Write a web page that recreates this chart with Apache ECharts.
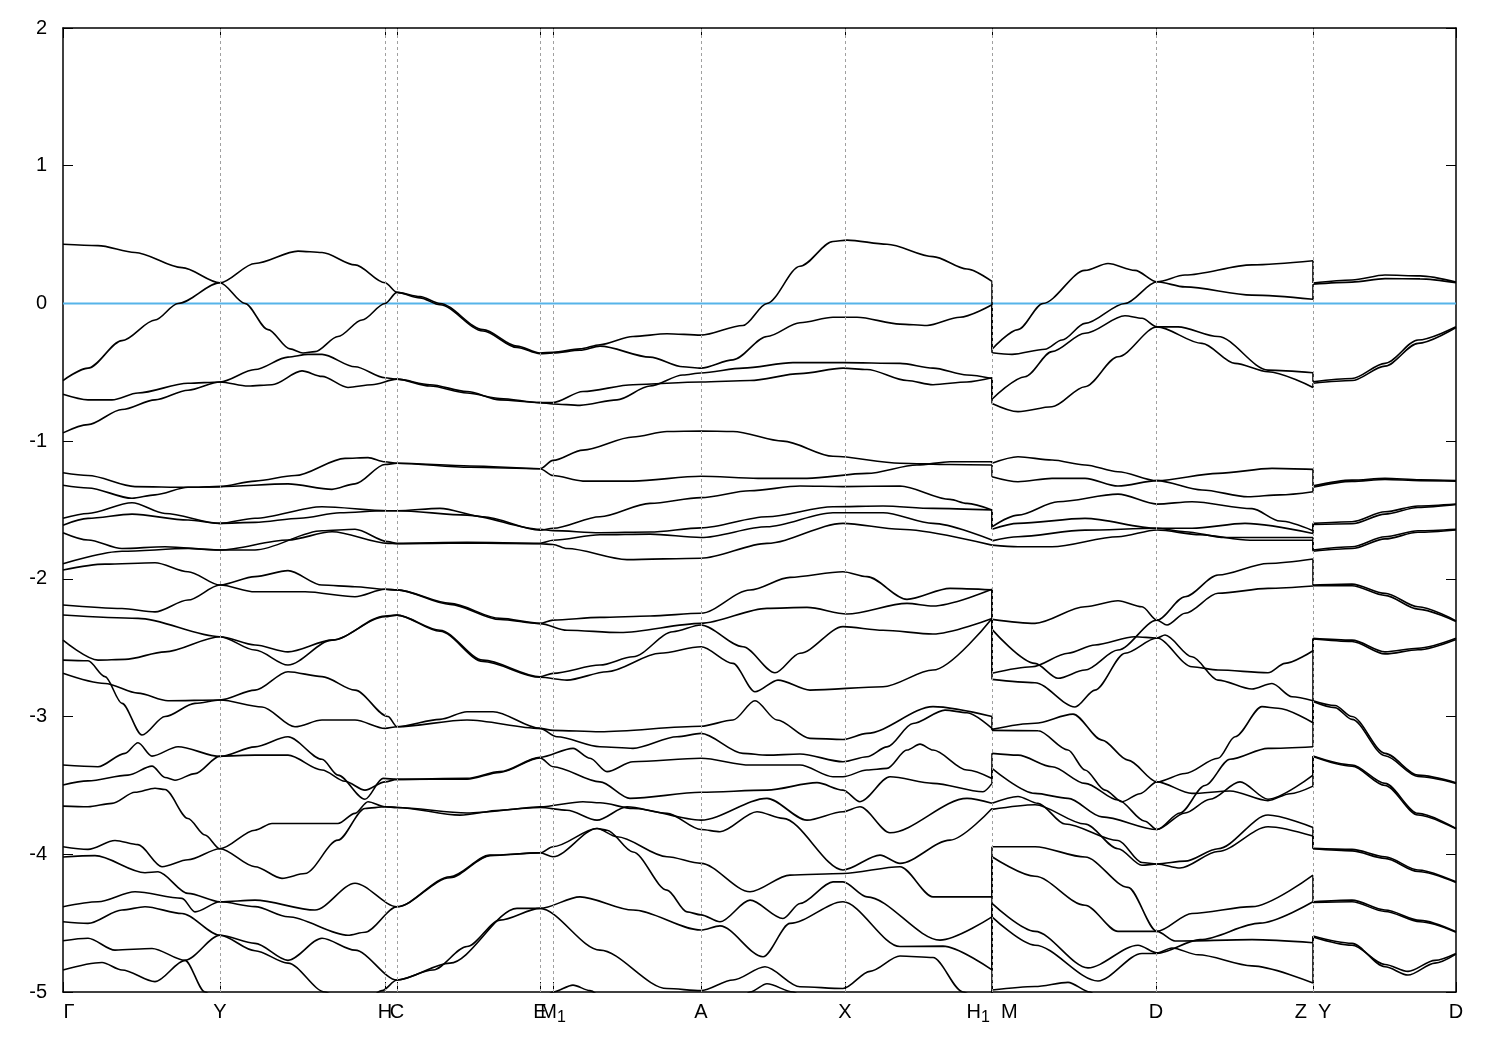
<!DOCTYPE html>
<html><head><meta charset="utf-8">
<script src="https://cdn.jsdelivr.net/npm/echarts@6/dist/echarts.min.js"></script>
<style>html,body{margin:0;padding:0;background:#fff}#c{width:1500px;height:1050px}</style>
</head><body><div id="c"></div>
<script>
// k-path positions of the high-symmetry points (arbitrary distance units)
const kTicks = [63, 220, 385, 397, 540, 553, 701, 845, 992, 1156, 1313, 1456];
const kLabels = ['{g|Γ}', 'Y', 'H', 'C', 'E', '{n|M}{s|1}', 'A', 'X', '{n|H}{s|1}{n|  M}', 'D', 'Z  Y', 'D'];
const fermiLevel = 0;
const energyMin = -5, energyMax = 2, energyStep = 1;

// Bands on Γ–Y–H–C–E–M1–A–X–H1   [k, E(eV)]
const bandsGammaH1 = [
 [[63,0.43],[98,0.42],[135,0.37],[182,0.26],[220,0.15],[245,0],[268,-0.19],[290,-0.33],[303,-0.36],[315,-0.35],[338,-0.24],[362,-0.12],[385,0],[397,0.08],[420,0.05],[440,0],[483,-0.19],[517,-0.31],[540,-0.36],[553,-0.355],[580,-0.33],[600,-0.3],[633,-0.24],[667,-0.22],[701,-0.23],[743,-0.16],[767,0],[800,0.27],[833,0.45],[847,0.46],[887,0.43],[933,0.34],[967,0.25],[992,0.16]],
 [[63,-0.56],[88,-0.47],[122,-0.27],[155,-0.12],[178,0],[220,0.15],[255,0.29],[298,0.38],[322,0.37],[355,0.28],[385,0.15],[397,0.08],[420,0.04],[440,-0.01],[483,-0.2],[517,-0.32],[540,-0.365],[553,-0.36],[580,-0.34],[600,-0.31],[650,-0.39],[683,-0.46],[701,-0.47],[733,-0.41],[767,-0.24],[800,-0.14],[833,-0.1],[857,-0.1],[900,-0.15],[927,-0.16],[960,-0.1],[992,-0.01]],
 [[63,-0.66],[88,-0.7],[112,-0.7],[138,-0.65],[188,-0.58],[220,-0.57],[248,-0.6],[272,-0.59],[302,-0.49],[322,-0.53],[348,-0.61],[372,-0.59],[397,-0.55],[430,-0.6],[467,-0.65],[500,-0.69],[540,-0.72],[553,-0.72],[583,-0.64],[633,-0.59],[701,-0.57],[750,-0.56],[800,-0.51],[843,-0.47],[867,-0.48],[907,-0.56],[933,-0.59],[967,-0.57],[992,-0.54]],
 [[63,-0.94],[88,-0.88],[122,-0.77],[155,-0.7],[188,-0.63],[220,-0.57],[255,-0.48],[288,-0.39],[308,-0.37],[322,-0.37],[355,-0.46],[385,-0.54],[397,-0.55],[430,-0.59],[467,-0.64],[500,-0.7],[540,-0.72],[553,-0.73],[580,-0.74],[617,-0.7],[650,-0.6],[683,-0.52],[701,-0.505],[743,-0.47],[793,-0.43],[843,-0.43],[900,-0.435],[933,-0.47],[967,-0.52],[992,-0.545]],
 [[63,-1.23],[88,-1.25],[135,-1.33],[188,-1.335],[220,-1.33],[255,-1.29],[295,-1.25],[345,-1.125],[368,-1.12],[385,-1.15],[397,-1.16],[470,-1.18],[540,-1.2],[553,-1.14],[583,-1.065],[633,-0.97],[667,-0.93],[701,-0.927],[733,-0.93],[783,-1.0],[833,-1.11],[900,-1.16],[950,-1.17],[992,-1.173]],
 [[63,-1.32],[88,-1.34],[132,-1.415],[155,-1.39],[188,-1.335],[220,-1.33],[288,-1.31],[332,-1.35],[355,-1.31],[385,-1.17],[397,-1.16],[470,-1.19],[540,-1.2],[553,-1.25],[583,-1.29],[633,-1.29],[701,-1.255],[758,-1.27],[807,-1.27],[867,-1.234],[917,-1.173],[950,-1.15],[992,-1.15]],
 [[63,-1.56],[88,-1.525],[132,-1.447],[165,-1.525],[220,-1.597],[255,-1.56],[322,-1.476],[388,-1.505],[397,-1.505],[440,-1.488],[483,-1.549],[540,-1.646],[553,-1.633],[600,-1.549],[650,-1.452],[701,-1.41],[750,-1.36],[800,-1.326],[843,-1.33],[900,-1.326],[950,-1.423],[967,-1.452],[992,-1.5]],
 [[63,-1.61],[88,-1.561],[132,-1.53],[188,-1.573],[220,-1.597],[255,-1.59],[300,-1.56],[340,-1.52],[385,-1.505],[397,-1.505],[467,-1.537],[540,-1.64],[553,-1.65],[600,-1.665],[650,-1.66],[701,-1.63],[767,-1.549],[833,-1.476],[883,-1.471],[933,-1.488],[992,-1.5]],
 [[63,-1.665],[88,-1.718],[122,-1.78],[165,-1.767],[220,-1.79],[255,-1.79],[322,-1.651],[355,-1.64],[388,-1.73],[397,-1.742],[467,-1.735],[540,-1.742],[553,-1.72],[600,-1.68],[650,-1.675],[701,-1.7],[767,-1.622],[833,-1.52],[883,-1.52],[933,-1.597],[992,-1.718]],
 [[63,-1.89],[122,-1.8],[188,-1.78],[220,-1.79],[288,-1.718],[332,-1.658],[388,-1.742],[397,-1.745],[467,-1.74],[540,-1.745],[553,-1.75],[567,-1.78],[627,-1.86],[701,-1.85],[767,-1.742],[843,-1.597],[900,-1.64],[992,-1.755]],
 [[63,-1.936],[105,-1.893],[155,-1.883],[188,-1.948],[220,-2.045],[255,-1.984],[288,-1.94],[322,-2.045],[355,-2.057],[385,-2.076],[397,-2.08],[450,-2.178],[500,-2.287],[540,-2.323],[553,-2.3],[600,-2.28],[650,-2.27],[701,-2.25],[750,-2.081],[790,-1.989],[843,-1.948],[867,-1.984],[907,-2.149],[950,-2.069],[992,-2.08]],
 [[63,-2.19],[122,-2.215],[155,-2.24],[188,-2.154],[220,-2.045],[255,-2.094],[305,-2.094],[355,-2.13],[385,-2.076],[397,-2.08],[450,-2.185],[500,-2.295],[540,-2.325],[567,-2.373],[620,-2.39],[701,-2.323],[767,-2.214],[807,-2.207],[847,-2.255],[907,-2.178],[933,-2.197],[992,-2.076]],
 [[63,-2.263],[138,-2.287],[220,-2.42],[255,-2.48],[288,-2.53],[332,-2.445],[385,-2.275],[397,-2.263],[440,-2.373],[483,-2.59],[540,-2.711],[553,-2.686],[600,-2.626],[633,-2.566],[673,-2.384],[701,-2.335],[743,-2.493],[775,-2.682],[800,-2.54],[843,-2.347],[883,-2.373],[933,-2.4],[992,-2.287]],
 [[63,-2.445],[98,-2.59],[125,-2.585],[165,-2.53],[220,-2.42],[255,-2.517],[288,-2.626],[332,-2.445],[385,-2.27],[397,-2.263],[440,-2.38],[483,-2.6],[540,-2.715],[567,-2.735],[607,-2.674],[660,-2.54],[701,-2.493],[733,-2.614],[755,-2.82],[778,-2.735],[810,-2.808],[883,-2.783],[933,-2.662],[992,-2.287]],
 [[63,-2.59],[88,-2.595],[105,-2.71],[122,-2.904],[142,-3.134],[165,-3.0],[195,-2.904],[220,-2.88],[255,-2.808],[288,-2.674],[322,-2.71],[355,-2.808],[388,-3.0],[397,-3.074],[440,-3.02],[467,-2.965],[493,-2.965],[540,-3.086],[553,-3.1],[600,-3.11],[701,-3.07],[733,-3.025],[755,-2.885],[777,-3.025],[810,-3.158],[843,-3.166],[867,-3.122],[933,-2.928],[992,-3.0]],
 [[63,-2.686],[105,-2.76],[138,-2.83],[168,-2.885],[220,-2.88],[262,-2.93],[295,-3.074],[322,-3.025],[355,-3.025],[385,-3.086],[397,-3.074],[467,-3.025],[540,-3.086],[557,-3.147],[600,-3.219],[633,-3.231],[677,-3.147],[701,-3.122],[743,-3.267],[767,-3.28],[800,-3.272],[843,-3.328],[867,-3.292],[887,-3.22],[913,-3.05],[945,-2.953],[967,-2.972],[992,-3.086]],
 [[63,-3.352],[98,-3.364],[125,-3.267],[138,-3.19],[152,-3.287],[178,-3.219],[220,-3.29],[255,-3.22],[288,-3.147],[322,-3.31],[338,-3.425],[365,-3.6],[383,-3.449],[397,-3.456],[467,-3.449],[500,-3.4],[540,-3.296],[573,-3.231],[590,-3.303],[607,-3.4],[633,-3.328],[701,-3.303],[750,-3.352],[800,-3.352],[833,-3.437],[843,-3.437],[867,-3.388],[887,-3.376],[907,-3.243],[920,-3.2],[933,-3.243],[967,-3.388],[992,-3.449]],
 [[63,-3.497],[88,-3.467],[128,-3.425],[152,-3.36],[165,-3.442],[175,-3.462],[195,-3.414],[220,-3.287],[255,-3.28],[288,-3.28],[322,-3.388],[345,-3.47],[365,-3.534],[385,-3.474],[397,-3.456],[467,-3.455],[500,-3.405],[540,-3.3],[553,-3.364],[600,-3.474],[630,-3.594],[701,-3.55],[767,-3.534],[817,-3.48],[843,-3.534],[860,-3.618],[890,-3.437],[933,-3.485],[983,-3.546],[992,-3.485]],
 [[63,-3.65],[88,-3.655],[112,-3.63],[135,-3.55],[155,-3.52],[165,-3.53],[188,-3.74],[205,-3.86],[220,-3.96],[255,-3.825],[272,-3.776],[338,-3.776],[355,-3.703],[368,-3.618],[385,-3.655],[397,-3.66],[460,-3.716],[500,-3.68],[540,-3.655],[583,-3.618],[600,-3.626],[633,-3.667],[701,-3.752],[767,-3.594],[807,-3.752],[843,-3.691],[860,-3.655],[890,-3.844],[967,-3.594],[992,-3.63]],
 [[63,-3.945],[88,-3.964],[115,-3.9],[138,-3.93],[162,-4.09],[188,-4.04],[220,-3.96],[255,-4.09],[282,-4.175],[305,-4.14],[338,-3.897],[365,-3.667],[385,-3.655],[397,-3.66],[467,-3.7],[540,-3.66],[567,-3.68],[597,-3.752],[627,-3.655],[667,-3.703],[701,-3.82],[720,-3.836],[757,-3.691],[783,-3.739],[843,-4.114],[880,-4.006],[900,-4.066],[950,-3.897],[992,-3.667]],
 [[63,-4.02],[95,-4.01],[145,-4.134],[158,-4.127],[188,-4.284],[220,-4.345],[255,-4.333],[315,-4.405],[355,-4.21],[397,-4.381],[450,-4.163],[490,-4.006],[540,-3.989],[553,-4.018],[597,-3.813],[607,-3.825],[633,-3.983],[667,-4.26],[687,-4.418],[701,-4.44],[720,-4.49],[750,-4.333],[783,-4.466],[800,-4.357],[833,-4.2],[843,-4.2],[867,-4.309],[940,-4.623],[992,-4.454]],
 [[63,-4.381],[98,-4.345],[135,-4.272],[182,-4.32],[195,-4.418],[220,-4.345],[255,-4.38],[288,-4.454],[348,-4.588],[365,-4.566],[397,-4.381],[450,-4.17],[490,-4.01],[540,-3.99],[553,-3.945],[597,-3.813],[617,-3.873],[667,-4.018],[701,-4.066],[750,-4.272],[790,-4.151],[843,-4.139],[900,-4.09],[933,-4.309],[992,-4.309]],
 [[63,-4.49],[88,-4.502],[122,-4.405],[145,-4.381],[182,-4.43],[220,-4.588],[255,-4.647],[288,-4.77],[322,-4.61],[355,-4.696],[397,-4.913],[433,-4.84],[467,-4.67],[500,-4.478],[540,-4.393],[580,-4.309],[633,-4.405],[701,-4.55],[720,-4.52],[763,-4.744],[790,-4.502],[843,-4.345],[900,-4.67],[943,-4.667],[992,-4.84]],
 [[63,-4.628],[88,-4.61],[115,-4.696],[152,-4.684],[185,-4.77],[220,-4.588],[255,-4.7],[288,-4.79],[325,-5.0],[355,-5.15],[382,-4.99],[397,-4.913],[450,-4.79],[517,-4.393],[540,-4.393],[600,-4.696],[667,-4.975],[701,-4.99],[733,-4.913],[765,-4.817],[800,-4.962],[843,-4.975],[870,-4.85],[900,-4.739],[933,-4.75],[963,-5.0],[992,-5.2]],
 [[63,-4.84],[102,-4.786],[122,-4.84],[155,-4.925],[185,-4.77],[205,-5.0],[230,-5.25],[530,-5.2],[553,-5.0],[573,-4.95],[590,-4.99],[620,-5.2],[730,-5.2],[750,-5.0],[767,-4.94],[793,-5.0],[820,-5.2],[992,-5.3]]
];

// Bands on M–D–Z
const bandsMZ = [
 [[992,-0.333],[1018,-0.19],[1043,0],[1085,0.24],[1108,0.29],[1135,0.24],[1157,0.157],[1185,0.206],[1252,0.28],[1313,0.31]],
 [[992,-0.358],[1012,-0.37],[1045,-0.333],[1062,-0.266],[1085,-0.145],[1125,0],[1157,0.157],[1185,0.12],[1252,0.06],[1313,0.03]],
 [[992,-0.696],[1025,-0.532],[1052,-0.35],[1085,-0.217],[1125,-0.09],[1142,-0.108],[1157,-0.17],[1178,-0.17],[1218,-0.24],[1268,-0.484],[1313,-0.503]],
 [[992,-0.726],[1018,-0.786],[1052,-0.75],[1085,-0.605],[1118,-0.387],[1157,-0.17],[1202,-0.29],[1235,-0.435],[1268,-0.496],[1313,-0.61]],
 [[992,-1.16],[1018,-1.113],[1052,-1.137],[1085,-1.173],[1118,-1.222],[1157,-1.287],[1218,-1.234],[1272,-1.198],[1313,-1.205]],
 [[992,-1.258],[1018,-1.295],[1052,-1.27],[1085,-1.27],[1118,-1.326],[1157,-1.287],[1202,-1.355],[1248,-1.404],[1280,-1.39],[1313,-1.367]],
 [[992,-1.622],[1018,-1.537],[1058,-1.44],[1118,-1.385],[1157,-1.457],[1192,-1.44],[1252,-1.49],[1280,-1.58],[1313,-1.65]],
 [[992,-1.64],[1018,-1.597],[1085,-1.561],[1157,-1.633],[1192,-1.633],[1245,-1.597],[1313,-1.67]],
 [[992,-1.724],[1018,-1.694],[1085,-1.646],[1157,-1.633],[1185,-1.658],[1225,-1.7],[1313,-1.7]],
 [[992,-1.755],[1018,-1.767],[1052,-1.767],[1118,-1.694],[1157,-1.645],[1200,-1.68],[1250,-1.72],[1313,-1.72]],
 [[992,-2.294],[1035,-2.323],[1085,-2.203],[1118,-2.159],[1142,-2.203],[1157,-2.3],[1167,-2.335],[1185,-2.25],[1218,-2.105],[1268,-2.069],[1313,-2.052]],
 [[992,-2.367],[1035,-2.614],[1058,-2.722],[1085,-2.662],[1118,-2.517],[1157,-2.3],[1185,-2.13],[1218,-1.972],[1268,-1.888],[1313,-1.856]],
 [[992,-2.686],[1032,-2.638],[1068,-2.54],[1095,-2.48],[1135,-2.42],[1157,-2.43],[1192,-2.638],[1218,-2.662],[1268,-2.682],[1285,-2.614],[1313,-2.522]],
 [[992,-2.73],[1035,-2.754],[1075,-2.93],[1095,-2.808],[1125,-2.54],[1157,-2.43],[1165,-2.408],[1192,-2.566],[1218,-2.735],[1252,-2.8],[1272,-2.76],[1292,-2.856],[1313,-2.885]],
 [[992,-3.093],[1035,-3.049],[1073,-2.982],[1102,-3.171],[1128,-3.316],[1157,-3.474],[1192,-3.558],[1230,-3.54],[1268,-3.61],[1290,-3.56],[1313,-3.505]],
 [[992,-3.1],[1038,-3.103],[1068,-3.243],[1085,-3.388],[1105,-3.534],[1122,-3.618],[1140,-3.56],[1157,-3.474],[1185,-3.413],[1218,-3.303],[1235,-3.147],[1262,-2.928],[1278,-2.94],[1313,-3.045]],
 [[992,-3.267],[1018,-3.28],[1052,-3.364],[1085,-3.485],[1118,-3.606],[1145,-3.76],[1157,-3.82],[1180,-3.7],[1205,-3.5],[1230,-3.31],[1268,-3.231],[1313,-3.219]],
 [[992,-3.376],[1035,-3.558],[1068,-3.594],[1102,-3.728],[1157,-3.82],[1185,-3.7],[1210,-3.6],[1240,-3.474],[1268,-3.6],[1313,-3.425]],
 [[992,-3.63],[1018,-3.58],[1038,-3.63],[1065,-3.78],[1118,-3.9],[1142,-4.06],[1157,-4.07],[1185,-4.05],[1218,-3.96],[1268,-3.715],[1313,-3.805]],
 [[992,-3.674],[1035,-3.64],[1085,-3.78],[1118,-3.96],[1142,-4.08],[1157,-4.07],[1180,-4.1],[1218,-3.98],[1268,-3.8],[1313,-3.868]],
 [[992,-3.945],[1035,-3.945],[1085,-4.02],[1128,-4.24],[1157,-4.56],[1192,-4.43],[1252,-4.38],[1313,-4.151]],
 [[992,-4.018],[1035,-4.16],[1085,-4.37],[1118,-4.56],[1157,-4.56],[1175,-4.63],[1252,-4.62],[1313,-4.642]],
 [[992,-4.357],[1035,-4.56],[1088,-4.825],[1138,-4.66],[1157,-4.716],[1172,-4.68],[1198,-4.73],[1252,-4.81],[1313,-4.935]],
 [[992,-4.454],[1035,-4.66],[1098,-4.92],[1142,-4.72],[1157,-4.72],[1200,-4.62],[1260,-4.5],[1313,-4.345]],
 [[992,-4.986],[1035,-4.96],[1068,-4.93],[1090,-5.0],[1110,-5.2],[1313,-5.2]]
];

// Bands on Y–D
const bandsYD = [
 [[1313,0.148],[1352,0.17],[1385,0.206],[1420,0.2],[1456,0.155]],
 [[1313,0.14],[1352,0.155],[1385,0.18],[1420,0.178],[1456,0.15]],
 [[1313,-0.569],[1352,-0.545],[1385,-0.435],[1418,-0.266],[1456,-0.17]],
 [[1313,-0.58],[1352,-0.56],[1385,-0.455],[1418,-0.29],[1456,-0.175]],
 [[1313,-1.325],[1352,-1.283],[1385,-1.27],[1420,-1.28],[1456,-1.287]],
 [[1313,-1.335],[1352,-1.292],[1385,-1.278],[1420,-1.287],[1456,-1.29]],
 [[1313,-1.597],[1352,-1.585],[1385,-1.513],[1418,-1.471],[1456,-1.457]],
 [[1313,-1.605],[1352,-1.6],[1385,-1.53],[1418,-1.482],[1456,-1.46]],
 [[1313,-1.79],[1352,-1.767],[1385,-1.694],[1418,-1.651],[1456,-1.64]],
 [[1313,-1.8],[1352,-1.78],[1385,-1.71],[1418,-1.662],[1456,-1.645]],
 [[1313,-2.045],[1352,-2.038],[1385,-2.105],[1418,-2.203],[1456,-2.305]],
 [[1313,-2.05],[1352,-2.05],[1385,-2.12],[1418,-2.22],[1456,-2.31]],
 [[1313,-2.432],[1352,-2.445],[1385,-2.53],[1418,-2.504],[1456,-2.432]],
 [[1313,-2.437],[1352,-2.455],[1385,-2.545],[1418,-2.515],[1456,-2.44]],
 [[1313,-2.885],[1335,-2.92],[1352,-3.0],[1385,-3.267],[1418,-3.425],[1456,-3.48]],
 [[1313,-2.89],[1335,-2.935],[1352,-3.02],[1385,-3.285],[1418,-3.435],[1456,-3.485]],
 [[1313,-3.287],[1352,-3.352],[1385,-3.485],[1418,-3.703],[1456,-3.812]],
 [[1313,-3.29],[1352,-3.36],[1385,-3.5],[1418,-3.715],[1456,-3.815]],
 [[1313,-3.957],[1352,-3.964],[1385,-4.018],[1418,-4.114],[1456,-4.2]],
 [[1313,-3.96],[1352,-3.975],[1385,-4.03],[1418,-4.125],[1456,-4.205]],
 [[1313,-4.345],[1352,-4.333],[1385,-4.405],[1420,-4.48],[1456,-4.563]],
 [[1313,-4.35],[1352,-4.345],[1385,-4.415],[1420,-4.49],[1456,-4.566]],
 [[1313,-4.594],[1352,-4.647],[1385,-4.817],[1408,-4.877],[1435,-4.79],[1456,-4.725]],
 [[1313,-4.6],[1352,-4.66],[1385,-4.8],[1408,-4.85],[1435,-4.77],[1456,-4.72]],
 [[1313,-5.2],[1456,-5.2]]
];

const segments = [bandsGammaH1, bandsMZ, bandsYD];

const bandStyle = { color: '#000', width: 1.6 };
const series = [];
segments.forEach(seg => seg.forEach(b => {
  series.push({ type: 'line', data: b, symbol: 'none', smooth: 0.3, smoothMonotone: 'x',
    lineStyle: bandStyle, silent: true, z: 3 });
}));
// jumps at the path discontinuities: connect bands of equal index
for (let s = 0; s < segments.length - 1; s++) {
  const ends = segments[s].map(b => b[b.length - 1]).sort((p, q) => q[1] - p[1]);
  const starts = segments[s + 1].map(b => b[0]).sort((p, q) => q[1] - p[1]);
  const n = Math.min(ends.length, starts.length);
  for (let i = 0; i < n; i++) {
    series.push({ type: 'line', data: [ends[i], starts[i]], symbol: 'none',
      lineStyle: bandStyle, silent: true, z: 3 });
  }
}
// Fermi level + high-symmetry guides
series.push({
  type: 'line', symbol: 'none', silent: true, z: 2,
  data: [[kTicks[0], fermiLevel], [kTicks[kTicks.length - 1], fermiLevel]],
  lineStyle: { color: '#56b4e9', width: 2 },
  markLine: {
    silent: true, symbol: 'none', label: { show: false },
    lineStyle: { color: '#a0a0a0', type: [3, 3], width: 1 },
    data: kTicks.slice(1, -1).map(k => ({ xAxis: k }))
  }
});

const labelFont = 'Liberation Sans, Arial, sans-serif';
const chart = echarts.init(document.getElementById('c'), null, { renderer: 'canvas' });
chart.setOption({
  animation: false,
  backgroundColor: '#fff',
  grid: { left: 63, right: 44, top: 28, bottom: 58 },
  xAxis: [{
    type: 'value', min: kTicks[0], max: kTicks[kTicks.length - 1], position: 'bottom',
    axisLine: { show: true, onZero: false, lineStyle: { color: '#000', width: 1.5 } },
    axisTick: { show: true, inside: true, length: 10, customValues: kTicks, lineStyle: { color: '#000', width: 1 } },
    axisLabel: {
      show: true, customValues: kTicks, margin: 10, color: '#000', fontSize: 20, fontFamily: labelFont,
      formatter: v => kLabels[kTicks.indexOf(v)] || '',
      rich: {
        g: { fontSize: 20, fontFamily: labelFont, color: '#000', padding: [0, 0, 0, 12] },
        n: { fontSize: 20, fontFamily: labelFont, color: '#000', verticalAlign: 'top' },
        s: { fontSize: 16, fontFamily: labelFont, color: '#000', verticalAlign: 'top', padding: [8, 0, 0, 0] }
      }
    },
    splitLine: { show: false }
  }, {
    type: 'value', min: kTicks[0], max: kTicks[kTicks.length - 1], position: 'top',
    axisLine: { show: true, onZero: false, lineStyle: { color: '#000', width: 1.5 } },
    axisTick: { show: true, inside: true, length: 10, customValues: kTicks, lineStyle: { color: '#000', width: 1 } },
    axisLabel: { show: false },
    splitLine: { show: false }
  }],
  yAxis: [{
    type: 'value', min: energyMin, max: energyMax, interval: energyStep, position: 'left',
    axisLine: { show: true, onZero: false, lineStyle: { color: '#000', width: 1.5 } },
    axisTick: { show: true, inside: true, length: 10, lineStyle: { color: '#000', width: 1 } },
    axisLabel: { color: '#000', fontSize: 20, fontFamily: labelFont, margin: 16 },
    splitLine: { show: false }
  }, {
    type: 'value', min: energyMin, max: energyMax, interval: energyStep, position: 'right',
    axisLine: { show: true, onZero: false, lineStyle: { color: '#000', width: 1.5 } },
    axisTick: { show: true, inside: true, length: 10, lineStyle: { color: '#000', width: 1 } },
    axisLabel: { show: false },
    splitLine: { show: false }
  }],
  series: series
});
</script>
</body></html>
